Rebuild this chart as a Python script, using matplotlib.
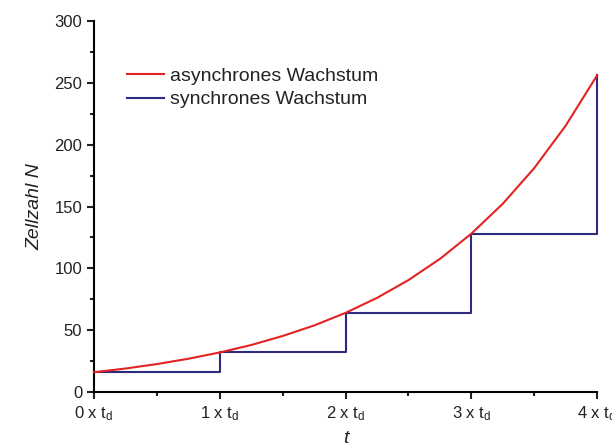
import matplotlib.pyplot as plt
from matplotlib.ticker import MultipleLocator

plt.rcParams['font.family'] = ['Liberation Sans', 'DejaVu Sans']
plt.rcParams['mathtext.fontset'] = 'custom'
plt.rcParams['mathtext.rm'] = 'Liberation Sans'
plt.rcParams['mathtext.it'] = 'Liberation Sans:italic'

async_x = [0, 0.25, 0.5, 0.75, 1, 1.25, 1.5, 1.75, 2, 2.25, 2.5, 2.75, 3, 3.25, 3.5, 3.75, 4]
async_n = [16, 19, 22.6, 26.9, 32, 38, 45.3, 53.8, 64, 76.1, 90.5, 107.6, 128, 152.2, 181, 215.3, 256]

# synchronous growth (steps)
sync_x = [0, 1, 2, 3, 4]
sync_n = [16, 32, 64, 128, 256]

xtick_pos = [0, 1, 2, 3, 4]
xtick_labels = [f"{i} x t$_\\mathrm{{d}}$" for i in xtick_pos]

fig = plt.figure(figsize=(6.12, 4.47), dpi=100)
ax = fig.add_axes([0.1536, 0.123, 0.822, 0.830])

ax.plot(async_x, async_n, color='#e32322', lw=1.5, label='asynchrones Wachstum', clip_on=False, zorder=3)
ax.step(sync_x, sync_n, where='post', color='#2e2a80', lw=1.5, label='synchrones Wachstum', clip_on=False)

ax.set_xlim(0, 4)
ax.set_ylim(0, 300)
ax.set_xticks(xtick_pos)
ax.set_xticklabels(xtick_labels)
ax.xaxis.set_minor_locator(MultipleLocator(0.5))
ax.yaxis.set_major_locator(MultipleLocator(50))
ax.yaxis.set_minor_locator(MultipleLocator(25))

for s in ['top', 'right']:
    ax.spines[s].set_visible(False)
for s in ['left', 'bottom']:
    ax.spines[s].set_linewidth(1.5)
ax.tick_params(which='major', length=5, width=1.5, labelsize=12, color='#222222', labelcolor='#222222')
ax.tick_params(which='minor', length=3, width=1.5, color='#222222')
ax.tick_params(axis='x', pad=4)

ax.set_xlabel('t', fontsize=14, style='italic', labelpad=5, color='#222222')
ax.set_ylabel('Zellzahl N', fontsize=14, style='italic', labelpad=8, color='#222222')

leg = ax.legend(loc='center left', bbox_to_anchor=(0.05, 0.82), frameon=False, fontsize=14,
                handlelength=1.9, handletextpad=0.3, labelspacing=0.3, borderaxespad=0)
for t in leg.get_texts():
    t.set_color('#222222')

fig.savefig('out.png', dpi=100)
